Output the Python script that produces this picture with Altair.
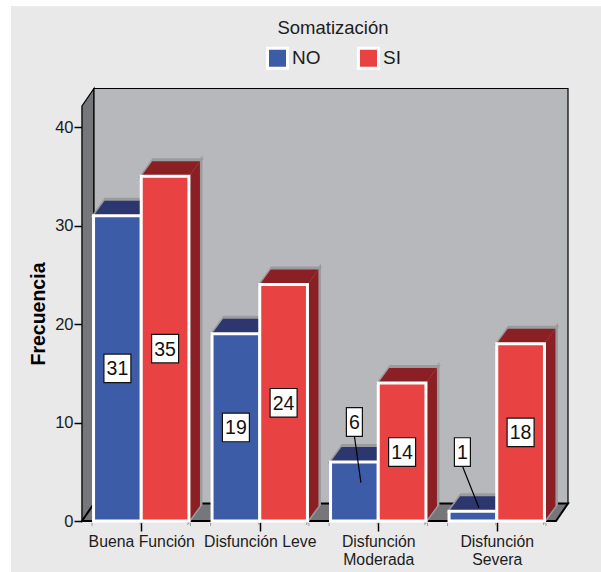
import json

import altair as alt
import pandas as pd

# Chart values
CATEGORIES = ["Buena Función", "Disfunción Leve", "Disfunción Moderada", "Disfunción Severa"]
AXIS_LINES = [["Buena Función"], ["Disfunción Leve"], ["Disfunción", "Moderada"], ["Disfunción", "Severa"]]
NO_VALUES = [31, 19, 6, 1]
SI_VALUES = [35, 24, 14, 18]
SERIES = ["NO", "SI"]
Y_TICKS = [0, 10, 20, 30, 40]

FONT = "Liberation Sans"
INK = "#1c1c1c"
FRONT = {"NO": "#3d5ca8", "SI": "#e94243"}
SHADE = {"NO": "#2d376f", "SI": "#8a2024"}
HALO = "#9a9b9f"
WALL = "#b7b8bb"
SIDE_WALL = "#75777a"
PANEL = "#e9e9e9"

# Plot geometry: pixels per data unit on each scale
PLOT_W, PLOT_H = 474, 415
X_MIN, X_MAX = -0.5, 3.5
PX_X = PLOT_W / (X_MAX - X_MIN)
PX_Y = 9.85
Y_MAX = PLOT_H / PX_Y
BAR_W = 47.7 / PX_X


def ux(px):
    return px / PX_X


def uy(px):
    return px / PX_Y


x_scale = alt.Scale(domain=[X_MIN, X_MAX], nice=False, zero=False)
y_scale = alt.Scale(domain=[0, Y_MAX], nice=False, zero=False)


def horizontal_band(rows, color, **mark):
    """Parallelogram with horizontal top and bottom edges."""
    return (
        alt.Chart(pd.DataFrame(rows))
        .mark_area(orient="horizontal", color=color, **mark)
        .encode(
            y=alt.Y("y:Q", scale=y_scale, axis=None),
            x=alt.X("x:Q", scale=x_scale, axis=None),
            x2="x2:Q",
            detail="id:N",
        )
    )


def vertical_band(rows, color, **mark):
    """Parallelogram with vertical left and right edges."""
    return (
        alt.Chart(pd.DataFrame(rows))
        .mark_area(orient="vertical", color=color, **mark)
        .encode(
            x=alt.X("x:Q", scale=x_scale, axis=None),
            y=alt.Y("y:Q", scale=y_scale, axis=None),
            y2="y2:Q",
            detail="id:N",
        )
    )


def top_rows(series, dx, dy):
    rows = []
    for i, v in enumerate(NO_VALUES if series == "NO" else SI_VALUES):
        left = i - BAR_W if series == "NO" else i
        rows.append({"id": i, "y": v, "x": left, "x2": left + BAR_W})
        rows.append({"id": i, "y": v + uy(dy), "x": left + ux(dx), "x2": left + BAR_W + ux(dx)})
    return rows


def side_rows(series, dx, dy):
    rows = []
    for i, v in enumerate(NO_VALUES if series == "NO" else SI_VALUES):
        right = i if series == "NO" else i + BAR_W
        rows.append({"id": i, "x": right, "y": 0, "y2": v})
        rows.append({"id": i, "x": right + ux(dx), "y": uy(dy), "y2": v + uy(dy)})
    return rows


# Room of the 3D box
BOX_DX, BOX_DY = ux(12), uy(17.5)
left_wall = vertical_band(
    [
        {"id": 0, "x": X_MIN, "y": 0, "y2": Y_MAX},
        {"id": 0, "x": X_MIN + BOX_DX, "y": BOX_DY, "y2": Y_MAX + BOX_DY},
    ],
    SIDE_WALL,
    stroke="#000000",
    strokeWidth=1.2,
)
back_wall = (
    alt.Chart(pd.DataFrame({"x": [X_MIN + BOX_DX], "x2": [X_MAX + BOX_DX], "y": [BOX_DY], "y2": [Y_MAX + BOX_DY]}))
    .mark_rect(color=WALL, stroke="#000000", strokeWidth=1.2)
    .encode(
        x=alt.X("x:Q", scale=x_scale, axis=None),
        x2="x2:Q",
        y=alt.Y("y:Q", scale=y_scale, axis=None),
        y2="y2:Q",
    )
)
floor = horizontal_band(
    [
        {"id": 0, "y": 0, "x": X_MIN, "x2": X_MAX},
        {"id": 0, "y": BOX_DY, "x": X_MIN + BOX_DX, "x2": X_MAX + BOX_DX},
    ],
    SIDE_WALL,
    stroke="#000000",
    strokeWidth=2,
)

# Axes sit under every mark, so the bars hide the start of each x tick
lines_expr = "{}[datum.value]".format(json.dumps(AXIS_LINES, ensure_ascii=False))
axis_layer = (
    alt.Chart(pd.DataFrame({"x": [0, 1, 2, 3], "y": [0, 0, 0, 0]}))
    .mark_point(opacity=0)
    .encode(
        x=alt.X(
            "x:Q",
            scale=x_scale,
            axis=alt.Axis(
                title=None,
                values=[0, 1, 2, 3],
                labelExpr=lines_expr,
                labelFont=FONT,
                labelFontSize=15.8,
                labelColor=INK,
                labelLineHeight=18,
                labelPadding=3,
                labelOverlap=False,
                labelFlush=False,
                domain=False,
                grid=False,
                tickSize=10,
                tickColor="#000000",
                tickWidth=1.5,
            ),
        ),
        y=alt.Y(
            "y:Q",
            scale=y_scale,
            axis=alt.Axis(
                title="Frecuencia",
                values=Y_TICKS,
                labelFont=FONT,
                labelFontSize=16.5,
                labelColor=INK,
                labelPadding=1,
                grid=False,
                domainColor="#000000",
                domainWidth=1.5,
                tickColor="#000000",
                tickSize=8,
                tickWidth=1.5,
                titleFont=FONT,
                titleFontSize=19.5,
                titleFontWeight="bold",
                titleColor="#000000",
                titlePadding=6,
            ),
        ),
    )
)

# Depth faces of the bars: a grey halo with the darker face over it
depth_layers = []
for s in SERIES:
    depth_layers += [
        horizontal_band(top_rows(s, 12, 16.5), HALO, stroke=HALO, strokeWidth=3),
        vertical_band(side_rows(s, 12, 16.5), HALO, stroke=HALO, strokeWidth=3),
        horizontal_band(top_rows(s, 11, 15), SHADE[s]),
        vertical_band(side_rows(s, 11, 15), SHADE[s]),
    ]

# Short grey marks under the outer corners of each bar pair
corner_rows = []
for i in range(len(CATEGORIES)):
    for edge in (i - BAR_W - ux(1.5), i + BAR_W + ux(1.5)):
        corner_rows.append({"x": edge, "y": -uy(2), "y2": -uy(5)})
corners = (
    alt.Chart(pd.DataFrame(corner_rows))
    .mark_rule(color=HALO, strokeWidth=1)
    .encode(
        x=alt.X("x:Q", scale=x_scale, axis=None),
        y=alt.Y("y:Q", scale=y_scale, axis=None),
        y2="y2:Q",
    )
)

# Front faces
front_rows = []
for i, (no, si) in enumerate(zip(NO_VALUES, SI_VALUES)):
    front_rows.append({"serie": "NO", "x": i - BAR_W, "x2": i, "y": no, "y2": 0})
    front_rows.append({"serie": "SI", "x": i, "x2": i + BAR_W, "y": si, "y2": 0})

fronts = (
    alt.Chart(pd.DataFrame(front_rows))
    .mark_rect(stroke="#ffffff", strokeWidth=3)
    .encode(
        x=alt.X("x:Q", scale=x_scale, axis=None),
        x2="x2:Q",
        y=alt.Y("y:Q", scale=y_scale, axis=None),
        y2="y2:Q",
        color=alt.Color(
            "serie:N",
            scale=alt.Scale(domain=SERIES, range=[FRONT[s] for s in SERIES]),
            legend=alt.Legend(
                title="Somatización",
                orient="none",
                direction="horizontal",
                columns=2,
                legendX=184,
                legendY=-87,
                titleAnchor="middle",
                titleFont=FONT,
                titleFontSize=18.5,
                titleFontWeight="normal",
                titleColor=INK,
                titlePadding=9,
                labelFont=FONT,
                labelFontSize=19,
                labelColor=INK,
                labelOffset=3,
                columnPadding=31,
                symbolType="square",
                symbolSize=400,
                symbolStrokeColor="#ffffff",
                symbolStrokeWidth=3,
                symbolOpacity=1,
            ),
        ),
    )
)

# Value boxes: centred in the bar, except the two short bars whose boxes sit above with a leader.
# Each callout holds the box height, its sideways shift, and the leader tip height and shift.
CALLOUTS = {("NO", 2): (10.05, 0, 3.9, 6.5), ("NO", 3): (7.0, -10.5, 1.35, 6)}
box_rows, leader_rows = [], []
for s, values in zip(SERIES, (NO_VALUES, SI_VALUES)):
    for i, v in enumerate(values):
        cx = i - BAR_W / 2 if s == "NO" else i + BAR_W / 2
        half_w = ux(8 if v < 10 else 13.5)
        cy = v / 2
        box_x = cx
        if (s, i) in CALLOUTS:
            cy, box_dx, tip_y, tip_dx = CALLOUTS[(s, i)]
            box_x = cx + ux(box_dx)
            leader_rows.append({"x": box_x, "x2": cx + ux(tip_dx), "y": cy - uy(14), "y2": tip_y})
        box_rows.append({"label": str(v), "x": box_x, "xa": box_x - half_w, "xb": box_x + half_w,
                         "y": cy, "ya": cy - uy(14.3), "yb": cy + uy(14.3)})
# Leaders run from a box's lower edge to a point on its bar
leaders = (
    alt.Chart(pd.DataFrame(leader_rows))
    .mark_rule(color="#000000", strokeWidth=1.2)
    .encode(
        x=alt.X("x:Q", scale=x_scale, axis=None),
        x2="x2:Q",
        y=alt.Y("y:Q", scale=y_scale, axis=None),
        y2="y2:Q",
    )
)
boxes_df = pd.DataFrame(box_rows)
boxes = (
    alt.Chart(boxes_df)
    .mark_rect(color="#ffffff", stroke="#111111", strokeWidth=1.2)
    .encode(
        x=alt.X("xa:Q", scale=x_scale, axis=None),
        x2="xb:Q",
        y=alt.Y("ya:Q", scale=y_scale, axis=None),
        y2="yb:Q",
    )
)
box_text = (
    alt.Chart(boxes_df)
    .mark_text(font=FONT, fontSize=19.5, color="#111111", baseline="middle", align="center", dy=1)
    .encode(
        x=alt.X("x:Q", scale=x_scale, axis=None),
        y=alt.Y("y:Q", scale=y_scale, axis=None),
        text="label:N",
    )
)

# White sheet margin around the grey panel
margins = [
    alt.Chart(pd.DataFrame({"a": [0]})).mark_rect(color="#ffffff").encode(
        x=alt.value(-82), x2=alt.value(-71), y=alt.value(-106), y2=alt.value(466)
    ),
    alt.Chart(pd.DataFrame({"a": [0]})).mark_rect(color="#ffffff").encode(
        x=alt.value(-82), x2=alt.value(519), y=alt.value(-106), y2=alt.value(-100)
    ),
]

chart = (
    alt.layer(
        axis_layer,
        *margins,
        left_wall,
        back_wall,
        floor,
        *depth_layers,
        corners,
        fronts,
        leaders,
        boxes,
        box_text,
    )
    .resolve_scale(x="shared", y="shared")
    .resolve_axis(x="independent", y="independent")
    .properties(
        width=PLOT_W,
        height=PLOT_H,
        background=PANEL,
        padding={"left": 82, "top": 106, "right": 45, "bottom": 51},
        autosize=alt.AutoSizeParams(type="none"),
    )
    .configure_view(stroke=None)
)

chart.save("out.html", embed_options={"renderer": "svg", "actions": False})
